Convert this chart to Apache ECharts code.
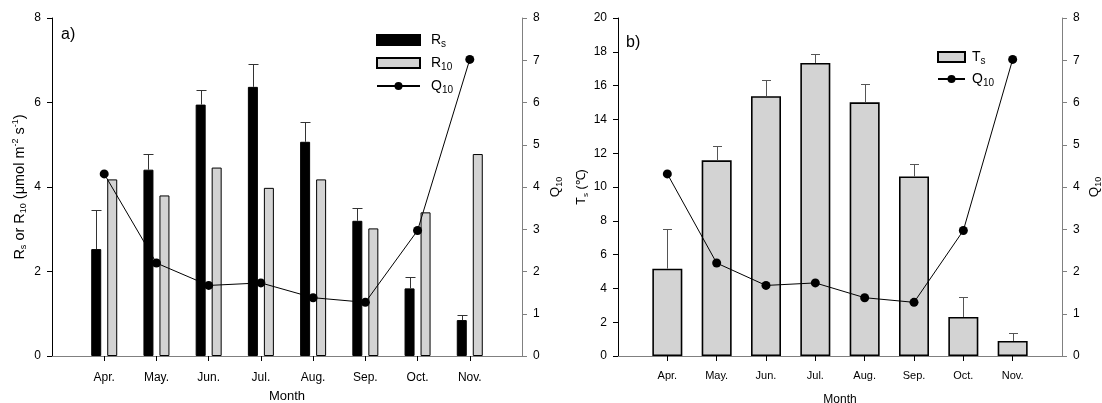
<!DOCTYPE html>
<html>
<head>
<meta charset="utf-8">
<script src="https://cdn.jsdelivr.net/npm/echarts@6/dist/echarts.min.js"></script>
<style>
html,body{margin:0;padding:0;background:#fff;}
#c{width:1102px;height:403px;}
</style>
</head>
<body>
<div id="c"></div>
<script>
const months = ['Apr.', 'May.', 'Jun.', 'Jul.', 'Aug.', 'Sep.', 'Oct.', 'Nov.'];
const rs = [2.53, 4.41, 5.95, 6.37, 5.07, 3.20, 1.60, 0.85];
const rsErr = [0.93, 0.36, 0.35, 0.55, 0.47, 0.31, 0.26, 0.11];
const r10 = [4.18, 3.80, 4.46, 3.98, 4.18, 3.02, 3.40, 4.78];
const q10 = [4.31, 2.20, 1.67, 1.73, 1.38, 1.27, 2.97, 7.02];
const ts = [5.17, 11.58, 15.37, 17.34, 15.01, 10.62, 2.31, 0.89];
const tsErr = [2.34, 0.85, 0.98, 0.55, 1.11, 0.72, 1.16, 0.47];
const leftTicks = [0, 2, 4, 6, 8];
const q10Ticks = [0, 1, 2, 3, 4, 5, 6, 7, 8];
const tsTicks = [0, 2, 4, 6, 8, 10, 12, 14, 16, 18, 20];

const cats = [''].concat(months, ['']);
const FONT = "'Liberation Sans', Arial, sans-serif";
const pairs = (arr) => arr.map((v, i) => [i + 1, v]);
const triples = (arr, err) => arr.map((v, i) => [i + 1, v, err[i]]);

function richAx(fs) {
  return {
    n: {fontSize: fs, fontFamily: FONT, color: '#000', lineHeight: 17},
    s: {fontSize: Math.round(fs * 0.65), fontFamily: FONT, color: '#000', lineHeight: 8, verticalAlign: 'bottom'},
    p: {fontSize: Math.round(fs * 0.65), fontFamily: FONT, color: '#000', lineHeight: 8, verticalAlign: 'top'}
  };
}
function legRich(pad) {
  return {
    f: {fontSize: 14, fontFamily: FONT, color: '#000', lineHeight: 18, padding: [0, 0, 0, pad]},
    s: {fontSize: 10, fontFamily: FONT, color: '#000', lineHeight: 9, verticalAlign: 'bottom'}
  };
}

function errRender(offset, half, color) {
  return function (params, api) {
    const x = api.value(0), v = api.value(1), e = api.value(2);
    const p0 = api.coord([x, v]);
    const p1 = api.coord([x, v + e]);
    const cx = Math.round(p0[0] + offset) + 0.5;
    const y1 = Math.round(p1[1]) + 0.5;
    return {
      type: 'group',
      children: [
        {type: 'line', shape: {x1: cx, y1: p0[1], x2: cx, y2: y1}, style: {stroke: color, lineWidth: 1}},
        {type: 'line', shape: {x1: cx - half, y1: y1, x2: cx + half, y2: y1}, style: {stroke: color, lineWidth: 1}}
      ]
    };
  };
}

function xAxes(gi, nameGap, fs, margin) {
  return [
    {
      type: 'category', gridIndex: gi, data: cats, boundaryGap: false, position: 'bottom',
      axisLine: {lineStyle: {color: '#000', width: 1}},
      axisTick: {length: 5, interval: (i) => i > 0 && i < cats.length - 1, lineStyle: {color: '#000'}},
      axisLabel: {interval: 0, margin: margin, fontSize: fs, fontFamily: FONT, color: '#000'},
      name: 'Month', nameLocation: 'middle', nameGap: nameGap,
      nameTextStyle: {fontSize: fs + 1, fontFamily: FONT, color: '#000'}
    },
    {
      type: 'category', gridIndex: gi, data: cats, boundaryGap: false, position: 'top',
      axisLine: {lineStyle: {color: '#808080', width: 1}},
      axisTick: {show: false}, axisLabel: {show: false}
    }
  ];
}

function yLeft(gi, ticks, name, gap, fs) {
  return {
    type: 'value', gridIndex: gi, position: 'left',
    min: ticks[0], max: ticks[ticks.length - 1], interval: ticks[1] - ticks[0],
    axisLine: {show: true, lineStyle: {color: '#000'}},
    axisTick: {show: true, length: 5, lineStyle: {color: '#000'}},
    splitLine: {show: false},
    axisLabel: {margin: 11, fontSize: 12, fontFamily: FONT, color: '#000'},
    name: name, nameLocation: 'middle', nameGap: gap, nameRotate: 90,
    nameTextStyle: {rich: richAx(fs)}
  };
}
function yRight(gi, gap) {
  return {
    type: 'value', gridIndex: gi, position: 'right',
    min: q10Ticks[0], max: q10Ticks[q10Ticks.length - 1], interval: q10Ticks[1] - q10Ticks[0],
    axisLine: {show: true, lineStyle: {color: '#808080'}},
    axisTick: {show: true, length: 5, lineStyle: {color: '#808080'}},
    splitLine: {show: false},
    axisLabel: {margin: 11, fontSize: 12, fontFamily: FONT, color: '#000'},
    name: '{n|Q}{s|10}', nameLocation: 'middle', nameGap: gap, nameRotate: 90,
    nameTextStyle: {rich: richAx(13.5)}
  };
}

const legendNames = {
  'Rs': '{f|R}{s|s}', 'R10': '{f|R}{s|10}', 'Q10': '{f|Q}{s|10}',
  'Ts': '{f|T}{s|s}', 'Q10b': '{f|Q}{s|10}'
};

const option = {
  animation: false,
  backgroundColor: '#fff',
  textStyle: {fontFamily: FONT},
  grid: [
    {left: 52, top: 18, width: 470, height: 338, outerBoundsMode: 'none', containLabel: false},
    {left: 618, top: 18, width: 444, height: 338, outerBoundsMode: 'none', containLabel: false}
  ],
  xAxis: xAxes(0, 34, 12, 16).concat(xAxes(1, 38, 11, 14)),
  yAxis: [
    yLeft(0, leftTicks, '{n|R}{s|s}{n| or R}{s|10}{n| (μmol m}{p|-2}{n| s}{p|-1}{n|)}', 24, 14.5),
    yRight(0, 25),
    yLeft(1, tsTicks, '{n|T}{s|s}{n| (℃)}', 28, 12.5),
    yRight(1, 24)
  ],
  legend: [
    {
      data: [{name: 'Rs', icon: 'rect'}, {name: 'R10', icon: 'rect'}, {name: 'Q10'}],
      orient: 'vertical', left: 371, top: 28,
      itemWidth: 43, itemHeight: 10, itemGap: 7,
      formatter: (n) => legendNames[n],
      textStyle: {rich: legRich(6)}
    },
    {
      data: [{name: 'Ts', icon: 'rect'}, {name: 'Q10b'}],
      orient: 'vertical', left: 932, top: 45,
      itemWidth: 27, itemHeight: 10, itemGap: 6,
      formatter: (n) => legendNames[n],
      textStyle: {rich: legRich(2)}
    }
  ],
  graphic: [
    {type: 'text', left: 61, top: 27, style: {text: 'a)', font: '16px ' + FONT, fill: '#000'}},
    {type: 'text', left: 626, top: 35, style: {text: 'b)', font: '16px ' + FONT, fill: '#000'}}
  ],
  series: [
    {
      name: 'Rs', type: 'bar', xAxisIndex: 0, yAxisIndex: 0, data: pairs(rs),
      barWidth: 10, barGap: '60%',
      itemStyle: {color: '#000', borderColor: '#000', borderWidth: 1}, z: 2
    },
    {
      name: 'R10', type: 'bar', xAxisIndex: 0, yAxisIndex: 0, data: pairs(r10),
      barWidth: 10, barGap: '60%',
      itemStyle: {color: '#d3d3d3', borderColor: '#000', borderWidth: 1}, z: 2
    },
    {
      name: 'RsErr', type: 'custom', xAxisIndex: 0, yAxisIndex: 0,
      data: triples(rs, rsErr), encode: {x: 0, y: [1, 2]},
      renderItem: errRender(-8, 5, '#333'), z: 3, silent: true
    },
    {
      name: 'Q10', type: 'line', xAxisIndex: 0, yAxisIndex: 1, data: pairs(q10),
      symbol: 'circle', symbolSize: 9,
      lineStyle: {color: '#000', width: 1}, itemStyle: {color: '#000'}, z: 5
    },
    {
      name: 'Ts', type: 'bar', xAxisIndex: 2, yAxisIndex: 2, data: pairs(ts),
      barWidth: 30,
      itemStyle: {color: '#d3d3d3', borderColor: '#000', borderWidth: 1.6}, z: 2
    },
    {
      name: 'TsErr', type: 'custom', xAxisIndex: 2, yAxisIndex: 2,
      data: triples(ts, tsErr), encode: {x: 0, y: [1, 2]},
      renderItem: errRender(0, 4.5, '#555'), z: 3, silent: true
    },
    {
      name: 'Q10b', type: 'line', xAxisIndex: 2, yAxisIndex: 3, data: pairs(q10),
      symbol: 'circle', symbolSize: 9,
      lineStyle: {color: '#000', width: 1}, itemStyle: {color: '#000'}, z: 5
    }
  ]
};

const chart = echarts.init(document.getElementById('c'), null, {renderer: 'canvas'});
chart.setOption(option);
</script>
</body>
</html>
